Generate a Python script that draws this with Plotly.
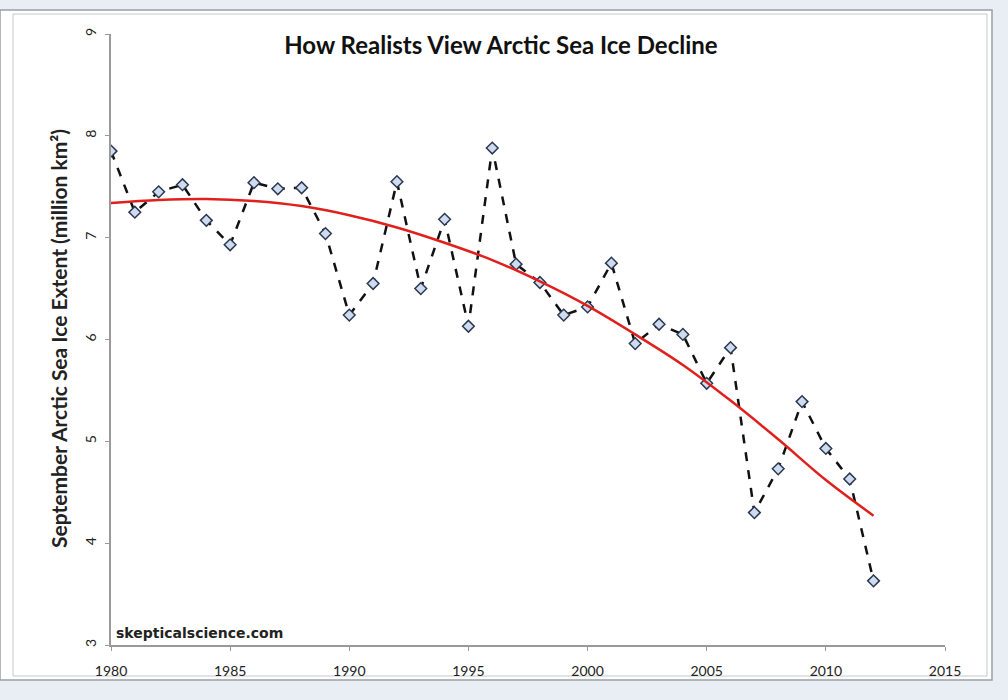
import plotly.graph_objects as go

years = list(range(1980, 2013))
extent = [7.85, 7.25, 7.45, 7.52, 7.17, 6.93, 7.54, 7.48, 7.49, 7.04,
          6.24, 6.55, 7.55, 6.50, 7.18, 6.13, 7.88, 6.74, 6.56, 6.24,
          6.32, 6.75, 5.96, 6.15, 6.05, 5.57, 5.92, 4.30, 4.73, 5.39,
          4.93, 4.63, 3.63]

trend_years = [1980, 1982, 1984, 1986, 1988, 1990, 1992, 1994, 1996, 1998,
               2000, 2002, 2004, 2006, 2008, 2010, 2012]
trend_vals = [7.34, 7.37, 7.38, 7.36, 7.31, 7.22, 7.10, 6.95, 6.78, 6.57,
              6.33, 6.05, 5.75, 5.40, 5.02, 4.62, 4.27]

x_ticks = [1980, 1985, 1990, 1995, 2000, 2005, 2010, 2015]
y_ticks = [3, 4, 5, 6, 7, 8, 9]

fig = go.Figure()
fig.add_trace(go.Scatter(
    x=years, y=extent, mode="lines+markers",
    line=dict(color="#111111", width=2.5, dash="dash"),
    marker=dict(symbol="diamond", size=9, color="#cfdcef",
                line=dict(color="#2b3850", width=1.5)),
    showlegend=False, hoverinfo="x+y"))
fig.add_trace(go.Scatter(
    x=trend_years, y=trend_vals, mode="lines",
    line=dict(color="#e0201c", width=2.5, shape="spline"),
    showlegend=False))

PW, PH = 834, 611

fig.update_layout(
    width=1008, height=700,
    margin=dict(l=111, r=63, t=34, b=55),
    paper_bgcolor="#e9eef4", plot_bgcolor="white",
    font=dict(family="Lato, Open Sans, sans-serif", color="#111111"),
    title=dict(text="<b>How Realists View Arctic Sea Ice Decline</b>",
               x=0.497, xanchor="center", y=0.935, yanchor="middle",
               font=dict(size=24, color="#111111")),
    xaxis=dict(range=[1980, 2015], tickvals=x_ticks, ticktext=[str(v) for v in x_ticks],
               showgrid=False, zeroline=False, showline=True, linecolor="#9a9a9a",
               linewidth=1.5, ticks="outside", ticklen=4, tickcolor="#9a9a9a",
               ticklabelstandoff=8,
               tickfont=dict(size=14, color="#222222", family="Lato"), fixedrange=True),
    yaxis=dict(range=[3, 9], tickvals=y_ticks, ticktext=[str(v) for v in y_ticks],
               showgrid=False, zeroline=False, showline=True, linecolor="#9a9a9a",
               linewidth=1.5, ticks="outside", ticklen=4, tickcolor="#9a9a9a",
               tickangle=-90, ticklabelstandoff=4,
               tickfont=dict(size=14, color="#222222", family="Lato"),
               fixedrange=True),
    shapes=[
        dict(type="rect", xref="paper", yref="paper", layer="below",
             x0=-111/PW, x1=(992-111)/PW, y0=-(680-645)/PH, y1=(645-10)/PH,
             fillcolor="white", line=dict(color="#9aa0a6", width=1.5)),
        dict(type="rect", xref="paper", yref="paper", layer="below",
             x0=-(111-13)/PW, x1=(987-111)/PW, y0=-(676-645)/PH, y1=(645-14)/PH,
             fillcolor="rgba(0,0,0,0)", line=dict(color="#c4c8cc", width=1)),
    ],
    annotations=[
        dict(text="<b>September Arctic Sea Ice Extent (million km²)</b>",
             xref="paper", yref="paper", x=(58-111)/PW, y=(645-339)/PH,
             xanchor="center", yanchor="middle", textangle=-90, showarrow=False,
             font=dict(size=21, color="#222222", family="Lato")),
        dict(text="<b>skepticalscience.com</b>", xref="paper", yref="paper",
             x=3/PW, y=(645-633)/PH, xanchor="left", yanchor="middle",
             showarrow=False, font=dict(size=14, color="#222222", family="DejaVu Sans")),
    ],
)

fig.write_html("out.html")
